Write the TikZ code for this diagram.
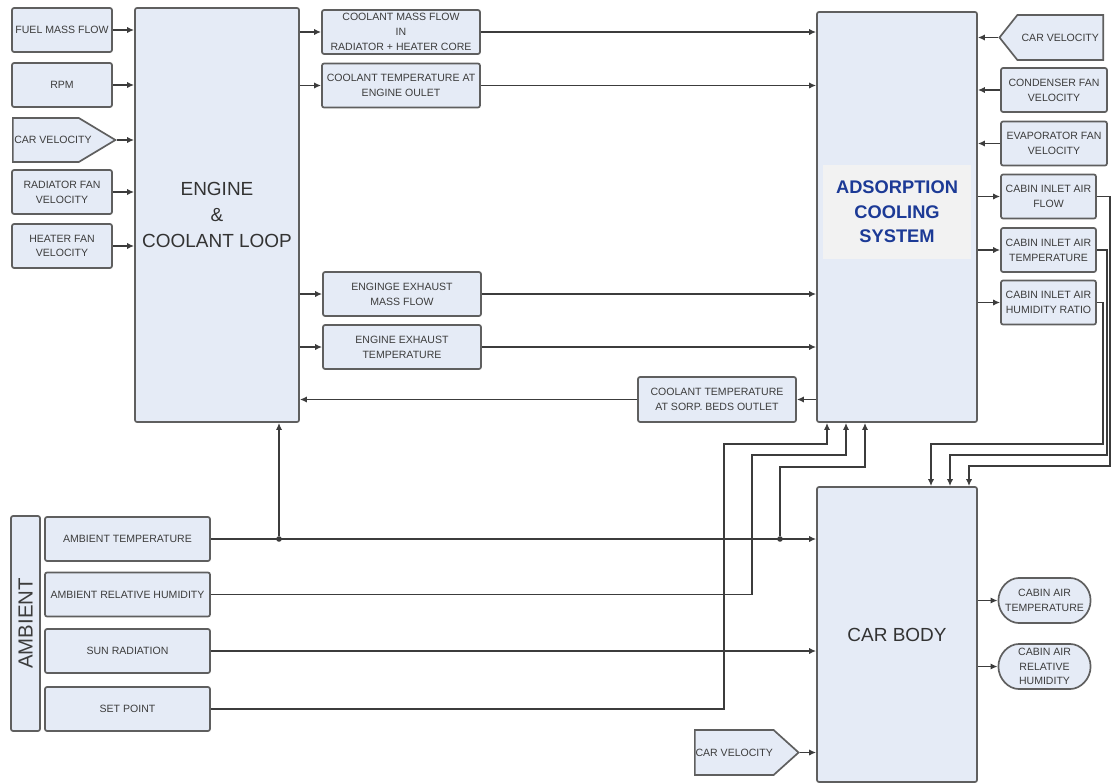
\documentclass[tikz,border=0pt]{standalone}
\usepackage{fontspec}
\setmainfont{Liberation Sans}
\usetikzlibrary{shapes,shapes.symbols,shapes.misc,positioning,arrows.meta,calc}
\pgfdeclarelayer{background}
\pgfsetlayers{background,main}
\definecolor{boxfill}{RGB}{229,235,246}
\definecolor{boxline}{RGB}{95,95,95}
\definecolor{wiregrey}{RGB}{60,60,60}
\definecolor{txtgrey}{RGB}{60,60,60}
\definecolor{acsblue}{RGB}{28,58,150}
\definecolor{bandgrey}{RGB}{242,242,242}

\begin{document}
\begin{tikzpicture}[x=0.025cm, y=-0.025cm,
					blk/.style={draw=boxline, fill=boxfill, line width=1.2pt, rounded corners=1.5pt, align=center, text=txtgrey, font=\fontsize{7.5}{10.5}\selectfont, inner sep=1pt, minimum height=1.1cm},
					bigblk/.style={blk, font=\fontsize{13.5}{18.5}\selectfont, text=black!80, minimum width=4cm},
					sig/.style={blk, sharp corners, signal, signal from=nowhere},
					outp/.style={blk, rounded rectangle, minimum width=2.375cm, minimum height=1.125cm},
					dot/.style={fill=wiregrey, circle, inner sep=1.4pt},
					wire/.style={draw=wiregrey, line width=1pt},
					>={Latex[length=5pt,width=4.5pt]}]
	\useasboundingbox (0,0) rectangle (1111,783);
	
	% engine and its inputs
	\node[bigblk, minimum width=4.1cm, minimum height=10.35cm] (eng) at (217,215) {ENGINE\\\&\\COOLANT LOOP};
	\node[blk, minimum width=2.5cm] (fuel) at (62,30) {FUEL MASS FLOW};
	\node[blk, minimum width=2.5cm] (rpm) at (62,85) {RPM};
	\node[sig, signal to=east, signal pointer angle=62, anchor=west] (velA) at (12,140) {\makebox[44.9pt][l]{CAR VELOCITY}};
	\node[blk, minimum width=2.5cm] (radfan) at (62,192) {RADIATOR FAN\\VELOCITY};
	\node[blk, minimum width=2.5cm] (heatfan) at (62,246) {HEATER FAN\\VELOCITY};
	
	% engine outputs
	\node[blk, minimum width=3.95cm] (cmf) at (401,32) {COOLANT MASS FLOW\\IN\\RADIATOR + HEATER CORE};
	\node[blk, minimum width=3.95cm] (cte) at (401,85.5) {COOLANT TEMPERATURE AT\\ENGINE OULET};
	\node[blk, minimum width=3.95cm] (exm) at (402,294) {ENGINGE EXHAUST\\MASS FLOW};
	\node[blk, minimum width=3.95cm] (ext) at (402,347) {ENGINE EXHAUST\\TEMPERATURE};
	\node[blk, minimum width=3.95cm, minimum height=1.125cm] (sorp) at (717,399.5) {COOLANT TEMPERATURE\\AT SORP. BEDS OUTLET};
	
	% adsorption cooling system
	\node[bigblk, minimum height=10.25cm] (acs) at (897,217) {};
	\node[fill=bandgrey, minimum width=3.7cm, minimum height=2.35cm, align=center, text=acsblue, font=\bfseries\fontsize{13}{17.5}\selectfont] (acslbl) at (897,212) {ADSORPTION\\COOLING\\SYSTEM};
	\node[sig, signal to=west, signal pointer angle=103, minimum height=1.125cm, anchor=east] (velB) at (1104,37.5) {\makebox[59pt][c]{CAR VELOCITY}};
	\node[blk, minimum width=2.65cm] (cond) at (1054,90) {CONDENSER FAN\\VELOCITY};
	\node[blk, minimum width=2.65cm] (evap) at (1054,143.5) {EVAPORATOR FAN\\VELOCITY};
	\node[blk, minimum width=2.375cm] (cflow) at (1048.5,196.5) {CABIN INLET AIR\\FLOW};
	\node[blk, minimum width=2.375cm] (ctemp) at (1048.5,250) {CABIN INLET AIR\\TEMPERATURE};
	\node[blk, minimum width=2.375cm] (chum) at (1048.5,302.5) {CABIN INLET AIR\\HUMIDITY RATIO};
	
	% car body
	\node[bigblk, minimum height=7.375cm] (cb) at (897,634.5) {CAR BODY};
	\node[outp] (cat) at (1044.5,600.5) {CABIN AIR\\TEMPERATURE};
	\node[outp] (carh) at (1044.5,666.5) {CABIN AIR\\RELATIVE\\HUMIDITY};
	\node[sig, signal to=east, signal pointer angle=84, minimum height=1.125cm, anchor=west] (velC) at (694,752.5) {\makebox[54pt][c]{CAR VELOCITY}};
	
	% ambient
	\node[blk, rotate=90, minimum width=5.375cm, minimum height=0.725cm, font=\fontsize{14.5}{16}\selectfont] (amb) at (25.5,623.5) {AMBIENT};
	\node[blk, minimum width=4.125cm] (atemp) at (127.5,539) {AMBIENT TEMPERATURE};
	\node[blk, minimum width=4.125cm] (arh) at (127.5,594.5) {AMBIENT RELATIVE HUMIDITY};
	\node[blk, minimum width=4.125cm] (sun) at (127.5,651) {SUN RADIATION};
	\node[blk, minimum width=4.125cm] (setp) at (127.5,709) {SET POINT};
	\node[dot] (j1) at (279,539) {};
	\node[dot] (j2) at (780,539) {};
	
	\foreach \n in {fuel,rpm,velA,radfan,heatfan}
		\draw[wire,->] (\n.east) -- (\n.east -| eng.west);
	\foreach \n in {cmf,cte,exm,ext} {
		\draw[wire,->] (\n.west -| eng.east) -- (\n.west);
		\draw[wire,->] (\n.east) -- (\n.east -| acs.west);
	}
	\draw[wire,->] (acs.west |- sorp.east) -- (sorp.east);
	\draw[wire,->] (sorp.west) -- (sorp.west -| eng.east);
	\foreach \n in {velB,cond,evap}
		\draw[wire,->] (\n.west) -- (\n.west -| acs.east);
	\foreach \n in {cflow,ctemp,chum}
		\draw[wire,->] (acs.east |- \n.west) -- (\n.west);
	
	\draw[wire,->] (cflow.east) -| (1110,466) -| ($(cb.north)+(72,0)$);
	\draw[wire,->] (ctemp.east) -| (1107,455) -| ($(cb.north)+(53,0)$);
	\draw[wire,->] (chum.east) -| (1103,444) -| ($(cb.north)+(34,0)$);
	
	\draw[wire,->] (atemp.east) -- (atemp.east -| cb.west);
	\draw[wire,->] (j1) -- (j1 |- eng.south);
	\draw[wire,->] (j2) |- ($(acs.south)+(-32,44)$) -- ($(acs.south)+(-32,0)$);
	\draw[wire,->] (arh.east) -| (752,455) -| ($(acs.south)+(-51,0)$);
	\draw[wire,->] (setp.east) -| (724,444) -| ($(acs.south)+(-70,0)$);
	\draw[wire,->] (sun.east) -- (sun.east -| cb.west);
	\draw[wire,->] (velC.east) -- (velC.east -| cb.west);
	\draw[wire,->] (cb.east |- cat.west) -- (cat.west);
	\draw[wire,->] (cb.east |- carh.west) -- (carh.west);
\end{tikzpicture}
\end{document}
